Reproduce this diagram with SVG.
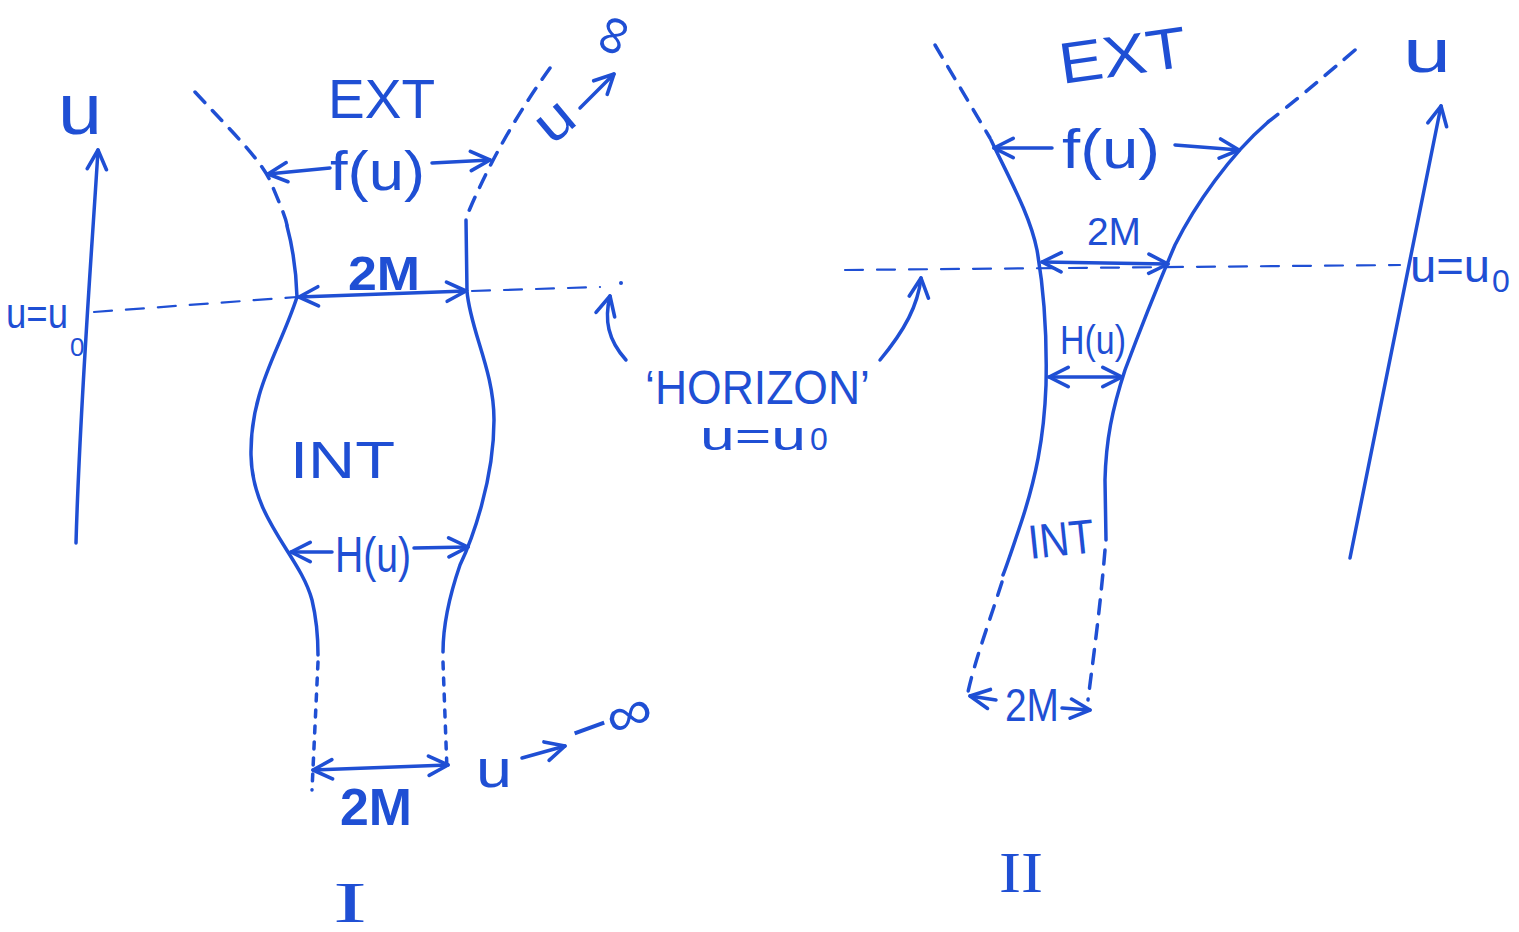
<svg xmlns="http://www.w3.org/2000/svg" width="1519" height="932" viewBox="0 0 1519 932">
<defs>
<marker id="ah" viewBox="0 0 20 20" refX="18" refY="10" markerWidth="24" markerHeight="24" markerUnits="userSpaceOnUse" orient="auto-start-reverse">
<path d="M2,2 L18,10 L2,18" fill="none" stroke="#1f4fd4" stroke-width="3" stroke-linecap="round" stroke-linejoin="round"/>
</marker>
<style>
.s{fill:none;stroke:#1f4fd4;stroke-width:3.5;stroke-linecap:round;stroke-linejoin:round}
.d{stroke-dasharray:14 11}
.o{stroke-dasharray:7 9}
.h{stroke-dasharray:18 14;stroke-width:2.2}
.a{marker-end:url(#ah)}
.b{marker-start:url(#ah);marker-end:url(#ah)}
text{font-family:"Liberation Sans",Arial,sans-serif;fill:#1f4fd4}
.r{font-family:"Liberation Serif","Times New Roman",serif}
</style>
</defs>
<rect width="1519" height="932" fill="#ffffff"/>

<g id="figure-I">
<path class="s" d="M76,543 C80,400 92,250 98,150" marker-end="url(#ah)"/>
<text x="58" y="134" font-size="72" textLength="44" lengthAdjust="spacingAndGlyphs">u</text>
<text x="6" y="328" font-size="42" textLength="62" lengthAdjust="spacingAndGlyphs">u=u</text>
<text x="70" y="356" font-size="26">0</text>
<path class="s h" d="M94,312 L297,297"/>
<path class="s h" d="M472,291 L600,287"/>
<circle cx="621" cy="283" r="2" fill="#1f4fd4"/>
<path class="s d" d="M195,92 C230,130 262,160 272,185 C280,205 285,215 287,225"/>
<path class="s" d="M287,226 Q296,260 297,297 C280,350 250,390 251,455 C252,520 300,555 312,600 C318,625 318,645 318,655"/>
<path class="s o" d="M318,662 L312,790"/>
<path class="s d" d="M550,68 C520,110 490,160 466,218"/>
<path class="s" d="M466,220 L467,291 C470,330 494,370 494,420 C494,480 472,540 460,565 C448,600 443,630 443,652"/>
<path class="s o" d="M443,662 L447,770"/>
<text x="328" y="118" font-size="56" textLength="107" lengthAdjust="spacingAndGlyphs">EXT</text>
<path class="s a" d="M330,168 L268,174"/>
<text x="330" y="190" font-size="56" textLength="95" lengthAdjust="spacingAndGlyphs">f(u)</text>
<path class="s a" d="M432,163 L490,160"/>
<text transform="translate(552,146) rotate(-40)" font-size="56" textLength="36" lengthAdjust="spacingAndGlyphs">u</text>
<path class="s a" d="M580,108 L614,74"/>
<text transform="translate(622,60) rotate(-70)" font-size="56" textLength="40" lengthAdjust="spacingAndGlyphs">∞</text>
<path class="s b" d="M299,297 L466,291"/>
<text x="348" y="290" font-size="48" font-weight="bold" textLength="72" lengthAdjust="spacingAndGlyphs">2M</text>
<text x="290" y="478" font-size="52" textLength="105" lengthAdjust="spacingAndGlyphs">INT</text>
<path class="s a" d="M332,552 L291,552"/>
<text x="335" y="572" font-size="50" textLength="76" lengthAdjust="spacingAndGlyphs">H(u)</text>
<path class="s a" d="M414,548 L468,547"/>
<path class="s b" d="M313,770 L448,765"/>
<text x="340" y="825" font-size="52" font-weight="bold" textLength="72" lengthAdjust="spacingAndGlyphs">2M</text>
<text x="476" y="787" font-size="54" textLength="36" lengthAdjust="spacingAndGlyphs">u</text>
<path class="s a" d="M522,758 L565,746"/>
<text transform="translate(578,752) rotate(-20)" font-size="56" textLength="84" lengthAdjust="spacingAndGlyphs">−∞</text>
<text class="r" x="333" y="922" font-size="58" textLength="34" lengthAdjust="spacingAndGlyphs">I</text>
</g>

<g id="horizon-label">
<path class="s a" d="M626,360 C608,340 604,320 610,296"/>
<path class="s a" d="M880,360 C905,330 918,305 921,278"/>
<text x="645" y="404" font-size="48" textLength="225" lengthAdjust="spacingAndGlyphs">‘HORIZON’</text>
<text x="700" y="450" font-size="40" textLength="106" lengthAdjust="spacingAndGlyphs">u=u</text>
<text x="810" y="450" font-size="32">0</text>
</g>

<g id="figure-II">
<path class="s h" d="M845,270 L1400,265"/>
<path class="s d" d="M935,45 L990,138"/>
<path class="s" d="M991,140 C1010,180 1030,215 1037,250 C1044,290 1047,340 1046,385 C1044,440 1035,480 1022,520 C1012,550 1005,570 1003,575"/>
<path class="s d" d="M1002,582 C990,620 975,660 968,692"/>
<path class="s d" d="M1355,50 C1320,80 1290,105 1268,122"/>
<path class="s" d="M1267,123 C1230,155 1195,205 1175,245 C1160,280 1140,330 1125,370 C1112,410 1106,440 1105,480 L1106,540"/>
<path class="s d" d="M1105,550 C1100,610 1093,660 1088,700"/>
<path class="s a" d="M1350,558 L1441,106"/>
<text x="1403" y="72" font-size="62" textLength="48" lengthAdjust="spacingAndGlyphs">u</text>
<text x="1410" y="282" font-size="46" textLength="80" lengthAdjust="spacingAndGlyphs">u=u</text>
<text x="1492" y="292" font-size="32">0</text>
<text transform="translate(1062,84) rotate(-8)" font-size="58" textLength="128" lengthAdjust="spacingAndGlyphs">EXT</text>
<path class="s a" d="M1052,148 L994,148"/>
<text x="1062" y="168" font-size="56" textLength="98" lengthAdjust="spacingAndGlyphs">f(u)</text>
<path class="s a" d="M1175,145 L1239,150"/>
<path class="s b" d="M1042,262 L1168,264"/>
<text x="1087" y="245" font-size="38" textLength="54" lengthAdjust="spacingAndGlyphs">2M</text>
<path class="s b" d="M1049,377 L1122,377"/>
<text x="1060" y="354" font-size="40" textLength="66" lengthAdjust="spacingAndGlyphs">H(u)</text>
<text transform="translate(1030,559) rotate(-6)" font-size="48" textLength="66" lengthAdjust="spacingAndGlyphs">INT</text>
<path class="s a" d="M996,700 L970,696"/>
<text x="1005" y="721" font-size="46" textLength="54" lengthAdjust="spacingAndGlyphs">2M</text>
<path class="s a" d="M1062,708 L1090,710"/>
<text class="r" x="999" y="892" font-size="56" textLength="44" lengthAdjust="spacingAndGlyphs">II</text>
</g>
</svg>
